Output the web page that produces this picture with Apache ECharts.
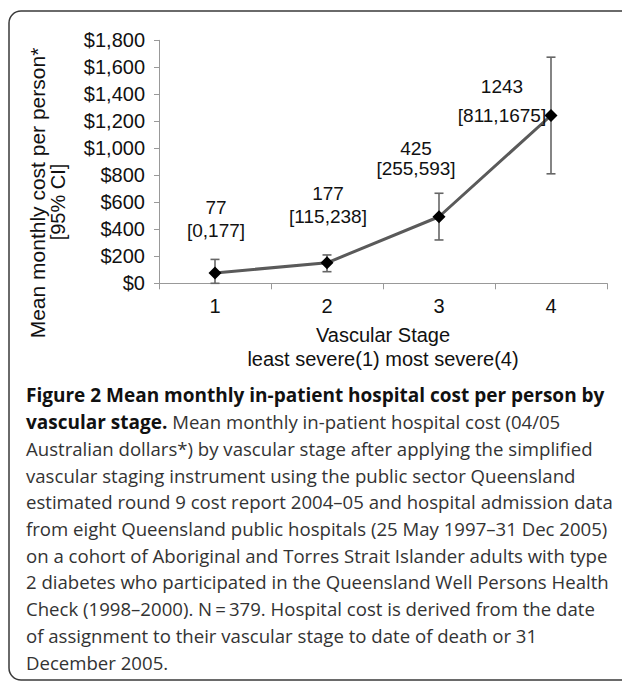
<!DOCTYPE html>
<html>
<head>
<meta charset="utf-8">
<script src="https://cdn.jsdelivr.net/npm/echarts@6/dist/echarts.min.js"></script>
<style>
html,body{margin:0;padding:0;background:#fff;}
#c{width:622px;height:682px;}
</style>
</head>
<body>
<div id="c"></div>
<script>
// ---- data ----
var stages = ['1', '2', '3', '4'];
var plottedMean = [77, 152, 493, 1243];
var plottedLow = [0, 86, 321, 811];
var plottedHigh = [177, 210, 667, 1675];
var labelMean = [77, 177, 425, 1243];
var labelLow = [0, 115, 255, 811];
var labelHigh = [177, 238, 593, 1675];
var yTickMax = 1800;
var yTickStep = 200;
var yAxisTitle = ['Mean monthly cost per person*', '[95% CI]'];
var xAxisTitle = ['Vascular Stage', 'least severe(1) most severe(4)'];
var captionLines = [
  [{b: 'Figure 2 Mean monthly in-patient hospital cost per person by'}],
  [{b: 'vascular stage.'}, {r: ' Mean monthly in-patient hospital cost (04/05'}],
  [{r: 'Australian dollars*) by vascular stage after applying the simplified'}],
  [{r: 'vascular staging instrument using the public sector Queensland'}],
  [{r: 'estimated round 9 cost report 2004\u201305 and hospital admission data'}],
  [{r: 'from eight Queensland public hospitals (25 May 1997\u201331 Dec 2005)'}],
  [{r: 'on a cohort of Aboriginal and Torres Strait Islander adults with type'}],
  [{r: '2 diabetes who participated in the Queensland Well Persons Health'}],
  [{r: 'Check (1998\u20132000). N\u2009=\u2009379. Hospital cost is derived from the date'}],
  [{r: 'of assignment to their vascular stage to date of death or 31'}],
  [{r: 'December 2005.'}]
];

// ---- layout / style (not data) ----
var labelOffsets = [[1, -65, -42], [1, -69, -46], [-23, -68, -48], [-49, -29, 0]];
var chartFont = 'Liberation Sans, Arial, sans-serif';
var capFont = 'Open Sans, sans-serif';

var chart = echarts.init(document.getElementById('c'), null, {renderer: 'svg'});

var errData = stages.map(function (s, i) { return [i, plottedLow[i], plottedHigh[i]]; });
var annData = stages.map(function (s, i) { return [i, plottedMean[i], labelMean[i], labelLow[i], labelHigh[i]]; });

var graphics = [
  {type: 'rect', shape: {x: 9, y: 11, width: 700, height: 669, r: 12},
   style: {fill: 'none', stroke: '#3a3a3a', lineWidth: 1.5}, silent: true},
  {type: 'text', x: 37, y: 193, rotation: Math.PI / 2,
   style: {text: yAxisTitle[0], font: '21px ' + chartFont, fill: '#111', align: 'center', verticalAlign: 'middle'}},
  {type: 'text', x: 58, y: 202, rotation: Math.PI / 2,
   style: {text: yAxisTitle[1], font: '20px ' + chartFont, fill: '#111', align: 'center', verticalAlign: 'middle'}}
];
var capTop = 395, capStep = 26.7;
captionLines.forEach(function (line, i) {
  var txt = line.map(function (seg) {
    return seg.b ? '{b|' + seg.b + '}' : '{r|' + seg.r + '}';
  }).join('');
  graphics.push({
    type: 'text', x: 26, y: capTop + i * capStep,
    style: {
      text: txt, align: 'left', verticalAlign: 'middle',
      rich: {
        b: {font: 'bold 19px ' + capFont, fill: '#111'},
        r: {font: '18.6px ' + capFont, fill: '#333'}
      }
    }
  });
});

var option = {
  animation: false,
  backgroundColor: '#fff',
  grid: {left: 159, right: 15, top: 40.3, bottom: 398.7, containLabel: false},
  xAxis: {
    type: 'category', data: stages, boundaryGap: true,
    axisLine: {lineStyle: {color: '#999', width: 1}},
    axisTick: {show: true, alignWithLabel: false, length: 6, lineStyle: {color: '#999'}},
    axisLabel: {color: '#111', fontSize: 20, fontFamily: chartFont, margin: 13},
    name: xAxisTitle.join('\n'), nameLocation: 'middle', nameGap: 40,
    nameTextStyle: {color: '#111', fontSize: 20, fontFamily: chartFont, lineHeight: 24}
  },
  yAxis: {
    type: 'value', min: 0, max: yTickMax, interval: yTickStep,
    axisLine: {show: true, lineStyle: {color: '#999', width: 1}},
    axisTick: {show: true, inside: false, length: 5, lineStyle: {color: '#999'}},
    splitLine: {show: false},
    axisLabel: {color: '#111', fontSize: 20, fontFamily: chartFont, margin: 14,
      formatter: function (v) { return '$' + v.toLocaleString('en-US'); }}
  },
  graphic: graphics,
  series: [
    {
      type: 'custom', z: 1, data: errData,
      renderItem: function (params, api) {
        var lo = api.coord([api.value(0), api.value(1)]);
        var hi = api.coord([api.value(0), api.value(2)]);
        var cw = 4.5;
        var st = {stroke: '#666', lineWidth: 1.6};
        return {type: 'group', children: [
          {type: 'line', shape: {x1: lo[0], y1: lo[1], x2: hi[0], y2: hi[1]}, style: st},
          {type: 'line', shape: {x1: lo[0] - cw, y1: lo[1], x2: lo[0] + cw, y2: lo[1]}, style: st},
          {type: 'line', shape: {x1: hi[0] - cw, y1: hi[1], x2: hi[0] + cw, y2: hi[1]}, style: st}
        ]};
      }
    },
    {
      type: 'line', z: 3, data: plottedMean,
      symbol: 'diamond', symbolSize: 13,
      itemStyle: {color: '#000'},
      lineStyle: {color: '#5a5a5a', width: 3}
    },
    {
      type: 'custom', z: 4, data: annData, silent: true,
      renderItem: function (params, api) {
        var i = params.dataIndex;
        var p = api.coord([api.value(0), api.value(1)]);
        var off = labelOffsets[i];
        var f = '19px ' + chartFont;
        return {type: 'group', children: [
          {type: 'text', x: p[0] + off[0], y: p[1] + off[1],
           style: {text: String(api.value(2)), font: f, fill: '#111', align: 'center', verticalAlign: 'middle'}},
          {type: 'text', x: p[0] + off[0], y: p[1] + off[2],
           style: {text: '[' + api.value(3) + ',' + api.value(4) + ']', font: f, fill: '#111', align: 'center', verticalAlign: 'middle'}}
        ]};
      }
    }
  ]
};
chart.setOption(option);
</script>
</body>
</html>
